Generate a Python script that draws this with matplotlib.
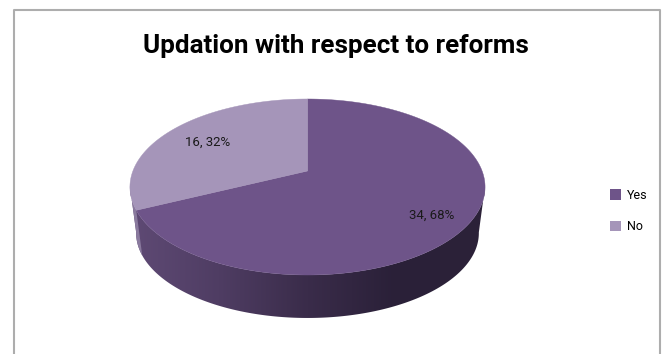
import numpy as np
import matplotlib
matplotlib.use('Agg')
import matplotlib.pyplot as plt
from matplotlib.colors import LinearSegmentedColormap
from matplotlib.patches import Patch, Polygon

# Data
title = 'Updation with respect to reforms'
categories = ['Yes', 'No']
counts = [34, 16]
slice_colors = ['#6E5489', '#A595B9']

plt.rcParams['font.family'] = ['Roboto', 'DejaVu Sans']

# Pie geometry in pixels, the disc is tilted with a small perspective
cx, cy = 307.5, 171
half_w, half_h, persp = 174.6, 85.1, 0.1818
depth, base_scale = 46.6, 0.965


def project(angle, scale=1.0, shift=0.0):
    # angle is clockwise from 12 o'clock
    x = np.sin(angle)
    y = np.cos(angle)
    w = 1 + persp * y
    return np.column_stack((cx + scale * half_w * x / w,
                            cy + shift - scale * half_h * y / w))


fig = plt.figure(figsize=(6.63, 3.54), dpi=100)
ax = fig.add_axes([0, 0, 1, 1])
ax.set_xlim(0, 663)
ax.set_ylim(354, 0)
ax.axis('off')

# Chart frame, open at the bottom
ax.plot([13.5, 13.5, 660, 660], [354, 10, 10, 354], color='#ADADAD', lw=1.5)

fractions = np.array(counts) / sum(counts)
yes_end = 2 * np.pi * fractions[0]

# Side wall of the disc, shaded left to right
left_tan = 2 * np.pi - np.radians(100)
right_tan = np.radians(100)
front = np.linspace(right_tan, left_tan, 200)
wall = np.vstack((project(front), project(front[::-1], base_scale, depth)))
wall_patch = Polygon(wall, closed=True, fc='none', ec='none')
ax.add_patch(wall_patch)
shade = LinearSegmentedColormap.from_list(
    'wall', ['#5F4A75', '#4F3D63', '#3A2C4A', '#2A2038', '#2C2239'])
gradient = ax.imshow(np.linspace(0, 1, 256)[None, :], cmap=shade, aspect='auto',
                     extent=(130, 485, 320, 170), zorder=1)
gradient.set_clip_path(wall_patch)
ax.set_xlim(0, 663)
ax.set_ylim(354, 0)

# The part of the wall below the smaller slice
sliver = np.linspace(yes_end, left_tan, 40)
ax.add_patch(Polygon(np.vstack((project(sliver), project(sliver[::-1], base_scale, depth))),
                     closed=True, fc='#8A7A9E', ec='none', zorder=2))

# Top faces
start = 0.0
for frac, color in zip(fractions, slice_colors):
    theta = np.linspace(start, start + 2 * np.pi * frac, 200)
    outline = np.vstack(([[cx, cy]], project(theta)))
    ax.add_patch(Polygon(outline, closed=True, fc=color, ec=color, lw=0.3, zorder=3))
    start += 2 * np.pi * frac

# Data labels
label_pos = [(432, 215), (208, 142)]
for (lx, ly), n, frac in zip(label_pos, counts, fractions):
    ax.text(lx, ly, f'{n}, {frac:.0%}', ha='center', va='center', fontsize=9.5,
            color='#1A1A1A', zorder=4)

ax.text(335.5, 46, title, ha='center', va='center', fontsize=18.7, fontweight='bold', color='black')

handles = [Patch(fc=c, ec='none') for c in slice_colors]
ax.legend(handles, categories, loc='center left', bbox_to_anchor=(610 / 663, 1 - 211 / 354),
          frameon=False, fontsize=9, handlelength=0.9, handleheight=0.9,
          handletextpad=0.45, labelspacing=1.5, borderpad=0, borderaxespad=0)

fig.savefig('out.png', dpi=100)
